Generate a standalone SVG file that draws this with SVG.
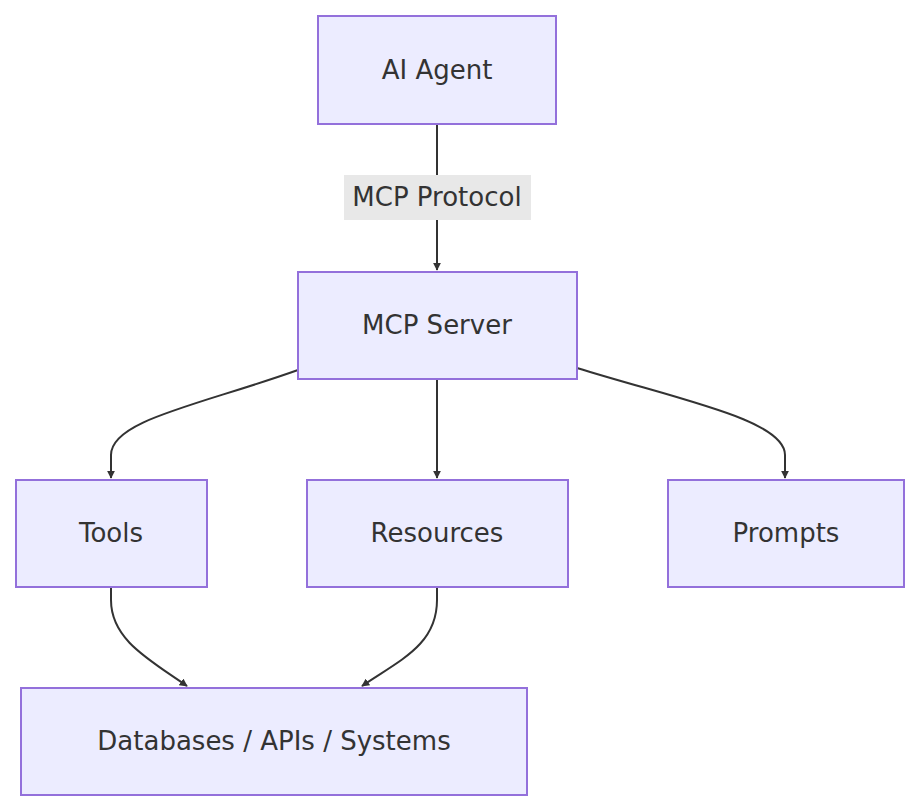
<svg xmlns="http://www.w3.org/2000/svg" width="920" height="812" viewBox="0 0 920 812">
<style>
.n rect{fill:#ECECFF;stroke:#9370DB;stroke-width:2}
text{font-family:"DejaVu Sans","Liberation Sans",sans-serif;font-size:26px;fill:#333;text-anchor:middle;dominant-baseline:central}
.e path{fill:none;stroke:#333;stroke-width:2}
</style>
<defs><marker id="a" viewBox="0 0 10 10" refX="9" refY="5" markerWidth="8" markerHeight="8" orient="auto-start-reverse" markerUnits="userSpaceOnUse"><path d="M0,0L10,5L0,10z" fill="#333"/></marker></defs>
<rect width="920" height="812" fill="#fff"/>
<g class="e">
<path d="M437,124L437,270" marker-end="url(#a)"/>
<path d="M298,370C200,405 111,420 111,455L111,478" marker-end="url(#a)"/>
<path d="M437,379L437,478" marker-end="url(#a)"/>
<path d="M577,368C680,400 785,420 785,455L785,478" marker-end="url(#a)"/>
<path d="M111,587L111,600C111,640 150,660 187,686" marker-end="url(#a)"/>
<path d="M437,587L437,600C437,645 400,660 362,686" marker-end="url(#a)"/>
</g>
<g id="lbl"><rect x="344" y="175" width="187" height="45" fill="#e8e8e8"/><text x="437" y="197">MCP Protocol</text></g>
<g id="agent" class="n"><rect x="318" y="16" width="238" height="108"/><text x="437" y="70">AI Agent</text></g>
<g id="server" class="n"><rect x="298" y="272" width="279" height="107"/><text x="437" y="325">MCP Server</text></g>
<g id="tools" class="n"><rect x="16" y="480" width="191" height="107"/><text x="111" y="533">Tools</text></g>
<g id="resources" class="n"><rect x="307" y="480" width="261" height="107"/><text x="437" y="533">Resources</text></g>
<g id="prompts" class="n"><rect x="668" y="480" width="236" height="107"/><text x="786" y="533">Prompts</text></g>
<g id="db" class="n"><rect x="21" y="688" width="506" height="107"/><text x="274" y="741">Databases / APIs / Systems</text></g>
</svg>
